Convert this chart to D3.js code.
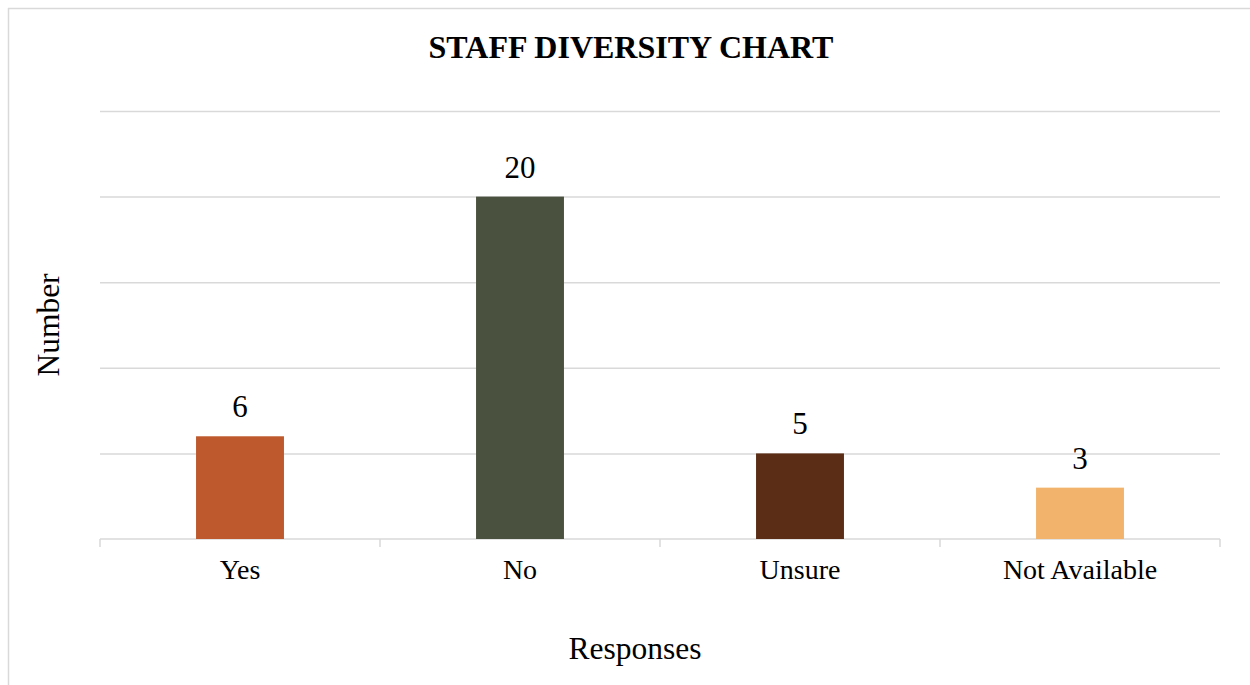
<!DOCTYPE html>
<html>
<head>
<meta charset="utf-8">
<script src="https://cdn.jsdelivr.net/npm/d3@7"></script>
<style>
  html, body { margin: 0; padding: 0; background: #fff; }
  svg { display: block; }
  text { font-family: "Liberation Serif", "Times New Roman", serif; fill: #000; }
</style>
</head>
<body>
<script>
// Survey answers and their counts
const categories = ["Yes", "No", "Unsure", "Not Available"];
const counts = [6, 20, 5, 3];
const barColors = ["#BD592C", "#4A523F", "#5C2D16", "#F2B46C"];
const yTicks = [0, 5, 10, 15, 20, 25];

const W = 1250, H = 685;
const plot = { left: 100, right: 1220, top: 111, bottom: 539 };

const svg = d3.select("body").append("svg")
  .attr("width", W).attr("height", H);

// chart frame
svg.append("rect")
  .attr("x", 8.5).attr("y", 8.5)
  .attr("width", W + 10).attr("height", H + 10)
  .attr("fill", "#fff")
  .attr("stroke", "#D9D9D9")
  .attr("stroke-width", 1.5);

const x = d3.scaleBand()
  .domain(categories)
  .range([plot.left, plot.right])
  .paddingInner(0.686)
  .paddingOuter(0.343);

const y = d3.scaleLinear()
  .domain([0, 25])
  .range([plot.bottom, plot.top]);

// horizontal gridlines
svg.append("g")
  .attr("transform", `translate(${plot.left},0)`)
  .call(d3.axisLeft(y).tickValues(yTicks.slice(1))
    .tickSize(-(plot.right - plot.left)).tickFormat(""))
  .call(g => g.select(".domain").remove())
  .call(g => g.selectAll(".tick line")
    .attr("stroke", "#D9D9D9").attr("stroke-width", 1.5));

// category axis with boundary ticks
const xAxis = svg.append("g")
  .attr("transform", `translate(0,${plot.bottom})`);
xAxis.append("line")
  .attr("x1", plot.left).attr("x2", plot.right)
  .attr("stroke", "#D9D9D9").attr("stroke-width", 1.5);
const step = x.step();
const bounds = d3.range(categories.length + 1).map(i => plot.left + i * step);
xAxis.selectAll("line.bound").data(bounds).join("line")
  .attr("class", "bound")
  .attr("x1", d => d).attr("x2", d => d)
  .attr("y1", 0).attr("y2", 8)
  .attr("stroke", "#D9D9D9").attr("stroke-width", 1.5);
xAxis.selectAll("text.cat").data(categories).join("text")
  .attr("class", "cat")
  .attr("x", d => x(d) + x.bandwidth() / 2)
  .attr("y", 40)
  .attr("text-anchor", "middle")
  .style("font-size", "28px")
  .text(d => d);

// bars
svg.append("g").selectAll("rect").data(categories).join("rect")
  .attr("x", d => x(d))
  .attr("y", (d, i) => y(counts[i]))
  .attr("width", x.bandwidth())
  .attr("height", (d, i) => y(0) - y(counts[i]))
  .attr("fill", (d, i) => barColors[i]);

// value labels
svg.append("g").selectAll("text").data(categories).join("text")
  .attr("x", d => x(d) + x.bandwidth() / 2)
  .attr("y", (d, i) => y(counts[i]) - 19)
  .attr("text-anchor", "middle")
  .style("font-size", "31px")
  .text((d, i) => counts[i]);

// title
svg.append("text")
  .attr("x", 631).attr("y", 58)
  .attr("text-anchor", "middle")
  .style("font-size", "32px")
  .style("font-weight", "bold")
  .text("STAFF DIVERSITY CHART");

// axis titles
svg.append("text")
  .attr("x", 635).attr("y", 659)
  .attr("text-anchor", "middle")
  .style("font-size", "31.5px")
  .text("Responses");

svg.append("text")
  .attr("transform", "translate(59,325) rotate(-90)")
  .attr("text-anchor", "middle")
  .style("font-size", "31.5px")
  .text("Number");
</script>
</body>
</html>
